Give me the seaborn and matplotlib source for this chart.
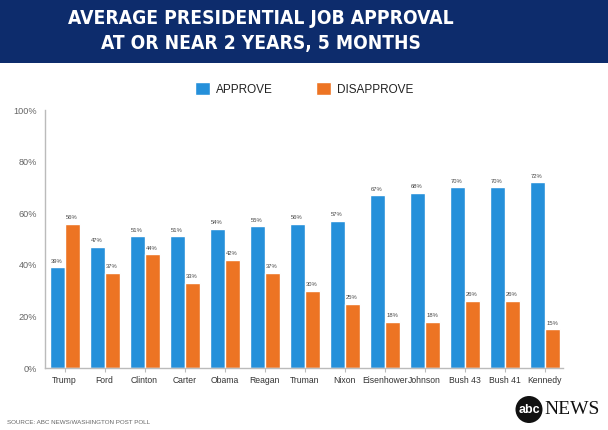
import matplotlib
matplotlib.use("Agg")
import matplotlib.pyplot as plt
import seaborn as sns
import pandas as pd
from matplotlib.patches import Rectangle, Circle

presidents = ["Trump", "Ford", "Clinton", "Carter", "Obama", "Reagan", "Truman",
              "Nixon", "Eisenhower", "Johnson", "Bush 43", "Bush 41", "Kennedy"]
approve = [39, 47, 51, 51, 54, 55, 56, 57, 67, 68, 70, 70, 72]
disapprove = [56, 37, 44, 33, 42, 37, 30, 25, 18, 18, 26, 26, 15]
series = ["APPROVE", "DISAPPROVE"]
y_ticks = [0, 20, 40, 60, 80, 100]

df = pd.DataFrame({
    "president": presidents * 2,
    "value": approve + disapprove,
    "series": [series[0]] * len(presidents) + [series[1]] * len(presidents),
})

sns.set_theme(style="white")
plt.rcParams["font.family"] = ["Liberation Sans", "DejaVu Sans"]

fig = plt.figure(figsize=(6.08, 4.30), dpi=100)
fig.patch.set_facecolor("white")
ax = fig.add_axes([45 / 608, 1 - 368 / 430, (563 - 45) / 608, (368 - 110) / 430])

palette = {"APPROVE": "#2590da", "DISAPPROVE": "#ed7423"}
sns.barplot(data=df, x="president", y="value", hue="series", order=presidents,
            hue_order=series, palette=palette, width=0.75, saturation=1,
            ax=ax, legend=True)

for cont in ax.containers:
    ax.bar_label(cont, fmt="{:.0f}%", padding=2.5, fontsize=4.2, color="#444444")

ax.set_xlim(-0.49, 12.46)
ax.set_ylim(0, 100)
ax.set_yticks(y_ticks)
ax.set_yticklabels([f"{t}%" for t in y_ticks])
ax.set_xlabel("")
ax.set_ylabel("")
for s in ["top", "right"]:
    ax.spines[s].set_visible(False)
for s in ["left", "bottom"]:
    ax.spines[s].set_color("#bbbbbb")
    ax.spines[s].set_linewidth(1.0)
ax.tick_params(axis="y", length=3, width=0.8, color="#bbbbbb", labelsize=6.6,
               labelcolor="#666666", pad=2.5)
ax.tick_params(axis="x", length=3, width=0.8, color="#bbbbbb", labelsize=6.2,
               labelcolor="#333333", pad=3, bottom=True)

handles, labels = ax.get_legend_handles_labels()
ax.get_legend().remove()
fig.legend(handles, labels, loc="center", bbox_to_anchor=(0.5, 1 - 89 / 430),
           ncol=2, frameon=False, fontsize=8.5, handlelength=1.3, handleheight=1.3,
           handletextpad=0.5, columnspacing=3.6, labelcolor="#222222")

# title banner
fig.patches.append(Rectangle((0, 1 - 63 / 430), 1, 63 / 430, transform=fig.transFigure,
                             facecolor="#0d2c6c", edgecolor="none", zorder=0))
title_font = ["DejaVu Sans", "Liberation Sans"]
for yy, line in [(18, "AVERAGE PRESIDENTIAL JOB APPROVAL"), (43, "AT OR NEAR 2 YEARS, 5 MONTHS")]:
    fig.text(261 / 608, 1 - yy / 430, line, color="white", fontsize=13.8,
             fontweight="bold", fontstretch="condensed", ha="center", va="center",
             family=title_font)

# source
fig.text(7 / 608, 1 - 423 / 430, "SOURCE: ABC NEWS/WASHINGTON POST POLL", color="#666666",
         fontsize=4.5, ha="left", va="center")

# logo
logo_ax = fig.add_axes([0, 0, 1, 1], facecolor="none")
logo_ax.set_axis_off()
logo_ax.set_xlim(0, 608)
logo_ax.set_ylim(430, 0)
logo_ax.add_patch(Circle((529, 409.5), 13.5, facecolor="#111111", edgecolor="none"))
logo_ax.text(529, 410, "abc", color="white", fontsize=9, fontweight="bold",
             ha="center", va="center")
logo_ax.text(544, 409, "NEWS", color="#111111", fontsize=14, ha="left", va="center",
             family=["Liberation Serif", "DejaVu Serif"])

fig.savefig("out.png", dpi=100)
